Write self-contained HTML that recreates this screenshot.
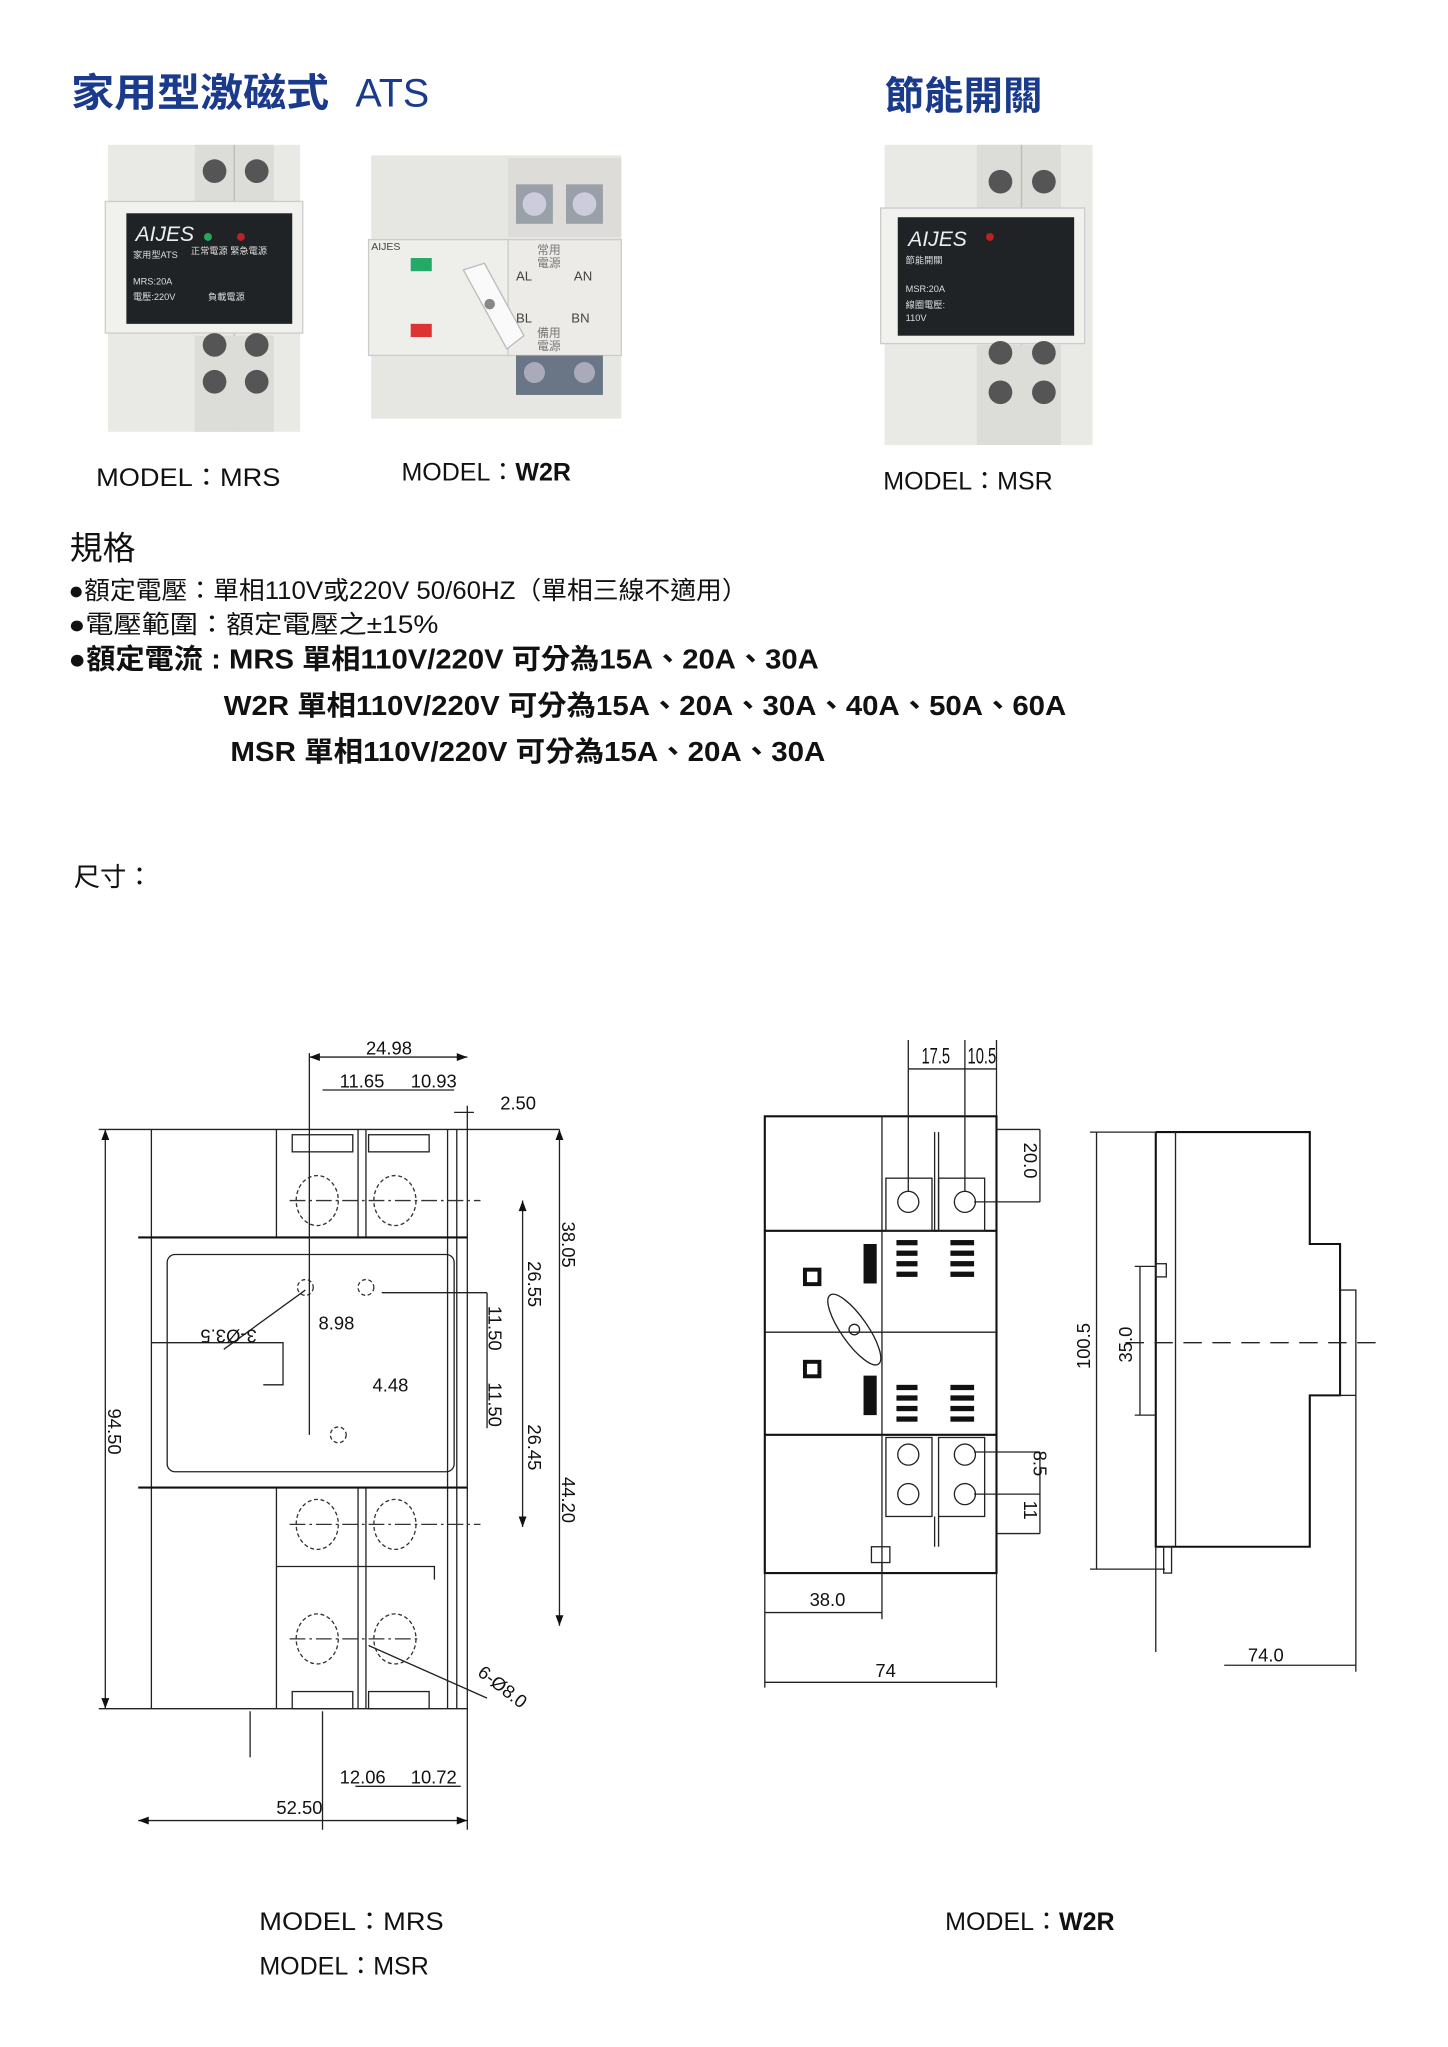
<!DOCTYPE html>
<html><head><meta charset="utf-8"><style>
html,body{margin:0;padding:0;background:#fff}
svg{display:block}
text{font-family:"Liberation Sans","Noto Sans CJK TC",sans-serif}
.d{font-family:"Liberation Sans Narrow","Liberation Sans",sans-serif;font-size:14px;fill:#111}
.ln{stroke:#222;stroke-width:1;fill:none}
.th{stroke:#111;stroke-width:1.6;fill:none}
.ds{stroke:#333;stroke-width:1;fill:none;stroke-dasharray:3 2}
.cl{stroke:#333;stroke-width:1;stroke-dasharray:12 3 2 3}
</style></head><body>
<svg width="1448" height="2047" viewBox="0 0 1100 1555" xmlns="http://www.w3.org/2000/svg">
<rect width="1100" height="1555" fill="#fff"/>
<!-- titles -->
<text x="54" y="81" font-size="30" font-weight="bold" fill="#1a3a8c" textLength="196" lengthAdjust="spacingAndGlyphs">家用型激磁式</text>
<text x="270" y="81" font-size="30" fill="#1a3a8c">ATS</text>
<text x="672" y="83" font-size="30" font-weight="bold" fill="#1a3a8c">節能開關</text>

<!-- MRS photo -->
<g>
<rect x="82" y="110" width="146" height="218" fill="#e9e9e6"/>
<rect x="148" y="110" width="60" height="55" fill="#dcdcd8"/>
<line x1="178" y1="110" x2="178" y2="328" stroke="#bbb"/>
<circle cx="163" cy="130" r="9" fill="#555"/><circle cx="195" cy="130" r="9" fill="#555"/>
<rect x="80" y="153" width="150" height="100" fill="#f1f1ee" stroke="#ccc"/>
<rect x="96" y="162" width="126" height="84" fill="#1f2326"/>
<text x="103" y="183" font-size="16" font-style="italic" fill="#eee" font-family="Liberation Serif">AIJES</text>
<text x="101" y="196" font-size="7" fill="#ddd">家用型ATS</text>
<text x="145" y="193" font-size="7" fill="#ddd">正常電源 緊急電源</text>
<text x="101" y="216" font-size="7" fill="#ddd">MRS:20A</text>
<text x="101" y="228" font-size="7" fill="#ddd">電壓:220V</text>
<text x="158" y="228" font-size="7" fill="#ddd">負載電源</text>
<circle cx="158" cy="180" r="3" fill="#2a5"/><circle cx="183" cy="180" r="3" fill="#b22"/>
<rect x="148" y="255" width="60" height="73" fill="#dcdcd8"/>
<circle cx="163" cy="262" r="9" fill="#555"/><circle cx="195" cy="262" r="9" fill="#555"/>
<circle cx="163" cy="290" r="9" fill="#555"/><circle cx="195" cy="290" r="9" fill="#555"/>
</g>
<!-- W2R photo -->
<g>
<rect x="282" y="118" width="190" height="200" fill="#e6e6e2"/>
<rect x="386" y="120" width="86" height="60" fill="#dedcd8"/>
<rect x="392" y="140" width="28" height="30" fill="#9aa0a8"/><rect x="430" y="140" width="28" height="30" fill="#9aa0a8"/>
<circle cx="406" cy="155" r="9" fill="#ccd"/><circle cx="444" cy="155" r="9" fill="#ccd"/>
<rect x="280" y="182" width="106" height="88" fill="#eeeeea" stroke="#ccc"/>
<rect x="386" y="182" width="86" height="88" fill="#ecebe7" stroke="#ccc"/>
<text x="282" y="190" font-size="8" fill="#444">AIJES</text>
<rect x="312" y="196" width="16" height="10" fill="#2a6"/>
<rect x="312" y="246" width="16" height="10" fill="#d33"/>
<polygon points="352,205 368,200 398,255 385,265" fill="#fafafa" stroke="#bbb"/>
<circle cx="372" cy="231" r="4" fill="#888"/>
<text x="392" y="213" font-size="10" fill="#444">AL</text><text x="436" y="213" font-size="10" fill="#444">AN</text>
<text x="392" y="245" font-size="10" fill="#444">BL</text><text x="434" y="245" font-size="10" fill="#444">BN</text>
<text x="408" y="193" font-size="9" fill="#777">常用</text><text x="408" y="203" font-size="9" fill="#777">電源</text>
<text x="408" y="256" font-size="9" fill="#777">備用</text><text x="408" y="266" font-size="9" fill="#777">電源</text>
<rect x="392" y="270" width="66" height="30" fill="#6a7585"/>
<circle cx="406" cy="283" r="8" fill="#aab"/><circle cx="444" cy="283" r="8" fill="#aab"/>
</g>
<!-- MSR photo -->
<g>
<rect x="672" y="110" width="158" height="228" fill="#e9e9e6"/>
<rect x="742" y="110" width="64" height="55" fill="#dcdcd8"/>
<line x1="776" y1="110" x2="776" y2="338" stroke="#bbb"/>
<circle cx="760" cy="138" r="9" fill="#555"/><circle cx="793" cy="138" r="9" fill="#555"/>
<rect x="669" y="158" width="155" height="103" fill="#f1f1ee" stroke="#ccc"/>
<rect x="682" y="165" width="134" height="90" fill="#1f2326"/>
<text x="690" y="187" font-size="16" font-style="italic" fill="#eee" font-family="Liberation Serif">AIJES</text>
<text x="688" y="200" font-size="7" fill="#ddd">節能開關</text>
<text x="688" y="222" font-size="7" fill="#ddd">MSR:20A</text>
<text x="688" y="234" font-size="7" fill="#ddd">線圈電壓:</text>
<text x="688" y="244" font-size="7" fill="#ddd">110V</text>
<circle cx="752" cy="180" r="3" fill="#b22"/>
<rect x="742" y="262" width="64" height="76" fill="#dcdcd8"/>
<circle cx="760" cy="268" r="9" fill="#555"/><circle cx="793" cy="268" r="9" fill="#555"/>
<circle cx="760" cy="298" r="9" fill="#555"/><circle cx="793" cy="298" r="9" fill="#555"/>
</g>
<!-- model labels -->
<text x="73" y="369" font-size="19" fill="#111" textLength="140" lengthAdjust="spacingAndGlyphs">MODEL：MRS</text>
<text x="305" y="365" font-size="19" fill="#111">MODEL：<tspan font-weight="bold">W2R</tspan></text>
<text x="671" y="372" font-size="19" fill="#111">MODEL：MSR</text>
<!-- specs -->
<text x="53" y="425" font-size="25" fill="#111">規格</text>
<text x="52" y="455" font-size="19" fill="#111" textLength="516" lengthAdjust="spacingAndGlyphs">●額定電壓：單相110V或220V 50/60HZ（單相三線不適用）</text>
<text x="52" y="481" font-size="19" fill="#111" textLength="281" lengthAdjust="spacingAndGlyphs">●電壓範圍：額定電壓之±15%</text>
<text x="52" y="508" font-size="21" font-weight="bold" fill="#111" textLength="570" lengthAdjust="spacingAndGlyphs">●額定電流 : MRS  單相110V/220V 可分為15A、20A、30A</text>
<text x="170" y="543" font-size="21" font-weight="bold" fill="#111" textLength="640" lengthAdjust="spacingAndGlyphs">W2R  單相110V/220V 可分為15A、20A、30A、40A、50A、60A</text>
<text x="175" y="578" font-size="21" font-weight="bold" fill="#111" textLength="452" lengthAdjust="spacingAndGlyphs">MSR  單相110V/220V 可分為15A、20A、30A</text>
<text x="56" y="673" font-size="20" fill="#111">尺寸：</text>

<!-- MRS drawing -->
<g>
<line class="ln" x1="75" y1="858" x2="425" y2="858"/>
<line class="ln" x1="75" y1="1298" x2="355" y2="1298"/>
<line class="ln" x1="80" y1="858" x2="80" y2="1298"/>
<path d="M80,858 l-3,8 h6z M80,1298 l-3,-8 h6z" fill="#111"/>
<line class="ln" x1="115" y1="858" x2="115" y2="1298"/>
<line class="ln" x1="210" y1="858" x2="210" y2="940"/><line class="ln" x1="210" y1="1130" x2="210" y2="1298"/>
<line class="ln" x1="272" y1="858" x2="272" y2="940"/><line class="ln" x1="272" y1="1130" x2="272" y2="1298"/>
<line class="ln" x1="278" y1="858" x2="278" y2="940"/><line class="ln" x1="278" y1="1130" x2="278" y2="1298"/>
<line class="ln" x1="340" y1="858" x2="340" y2="1298"/>
<line class="ln" x1="347" y1="858" x2="347" y2="1298"/>
<line class="ln" x1="355" y1="840" x2="355" y2="1390"/>
<line class="th" x1="105" y1="940" x2="355" y2="940"/>
<line class="th" x1="105" y1="1130" x2="355" y2="1130"/>
<rect class="ln" x="127" y="953" width="218" height="165" rx="6"/>
<rect class="ln" x="222" y="862" width="46" height="13"/><rect class="ln" x="280" y="862" width="46" height="13"/>
<rect class="ln" x="222" y="1285" width="46" height="13"/><rect class="ln" x="280" y="1285" width="46" height="13"/>
<polyline class="ln" points="210,1190 330,1190 330,1200"/>
<ellipse class="ds" cx="241" cy="912" rx="16" ry="19"/><ellipse class="ds" cx="300" cy="912" rx="16" ry="19"/>
<ellipse class="ds" cx="241" cy="1158" rx="16" ry="19"/><ellipse class="ds" cx="300" cy="1158" rx="16" ry="19"/>
<ellipse class="ds" cx="241" cy="1245" rx="16" ry="19"/><ellipse class="ds" cx="300" cy="1245" rx="16" ry="19"/>
<line class="cl" x1="220" y1="912" x2="365" y2="912"/><line class="cl" x1="220" y1="1158" x2="365" y2="1158"/><line class="cl" x1="220" y1="1245" x2="320" y2="1245"/>
<circle class="ds" cx="232" cy="978" r="6"/><circle class="ds" cx="278" cy="978" r="6"/><circle class="ds" cx="257" cy="1090" r="6"/>
<line class="ln" x1="235" y1="800" x2="235" y2="1090"/>
<line class="ln" x1="290" y1="982" x2="370" y2="982"/>
<line class="ln" x1="245" y1="1300" x2="245" y2="1390"/>
<line class="ln" x1="190" y1="1300" x2="190" y2="1335"/>
<polyline class="ln" points="115,1020 215,1020 215,1052 200,1052"/>
<line class="ln" x1="170" y1="1025" x2="232" y2="980"/>
<line class="ln" x1="280" y1="1250" x2="370" y2="1290"/>
<line class="ln" x1="370" y1="982" x2="370" y2="1085"/>
<line class="ln" x1="397" y1="912" x2="397" y2="1160"/>
<line class="ln" x1="425" y1="858" x2="425" y2="1235"/>
<path d="M425,858 l-3,8 h6z M425,1235 l-3,-8 h6z M397,912 l-3,8 h6z M397,1160 l-3,-8 h6z" fill="#111"/>
<line class="ln" x1="235" y1="803" x2="355" y2="803"/>
<path d="M235,803 l8,-3 v6z M355,803 l-8,-3 v6z" fill="#111"/>
<line class="ln" x1="245" y1="828" x2="345" y2="828"/>
<line class="ln" x1="345" y1="845" x2="360" y2="845"/>
<line class="ln" x1="270" y1="1357" x2="350" y2="1357"/>
<line class="ln" x1="105" y1="1383" x2="355" y2="1383"/>
<path d="M105,1383 l8,-3 v6z M355,1383 l-8,-3 v6z" fill="#111"/>
<text class="d" x="278" y="801">24.98</text>
<text class="d" x="258" y="826">11.65</text><text class="d" x="312" y="826">10.93</text>
<text class="d" x="380" y="843">2.50</text>
<text class="d" x="242" y="1010">8.98</text>
<text class="d" x="283" y="1057">4.48</text>
<text class="d" x="258" y="1355">12.06</text><text class="d" x="312" y="1355">10.72</text>
<text class="d" x="210" y="1378">52.50</text>
<text class="d" transform="translate(195,1010) rotate(180)">3-Ø3.5</text>
<text class="d" transform="translate(82,1070) rotate(90)">94.50</text>
<text class="d" transform="translate(371,992) rotate(90)">11.50</text>
<text class="d" transform="translate(371,1050) rotate(90)">11.50</text>
<text class="d" transform="translate(401,958) rotate(90)">26.55</text>
<text class="d" transform="translate(401,1082) rotate(90)">26.45</text>
<text class="d" transform="translate(427,928) rotate(90)">38.05</text>
<text class="d" transform="translate(427,1122) rotate(90)">44.20</text>
<text class="d" transform="translate(362,1272) rotate(38)">6-Ø8.0</text>
</g>

<!-- W2R front -->
<g>
<rect class="th" x="581" y="848" width="176" height="347"/>
<line class="th" x1="581" y1="935" x2="757" y2="935"/>
<line class="th" x1="581" y1="1090" x2="757" y2="1090"/>
<line class="ln" x1="581" y1="1012" x2="757" y2="1012"/>
<line class="ln" x1="670" y1="848" x2="670" y2="1195"/>
<line class="ln" x1="710" y1="860" x2="710" y2="935"/><line class="ln" x1="713" y1="860" x2="713" y2="935"/>
<rect class="ln" x="673" y="895" width="35" height="40"/><rect class="ln" x="713" y="895" width="35" height="40"/>
<circle class="ln" cx="690" cy="913" r="8"/><circle class="ln" cx="733" cy="913" r="8"/>
<rect class="ln" x="673" y="1092" width="35" height="60"/><rect class="ln" x="713" y="1092" width="35" height="60"/>
<circle class="ln" cx="690" cy="1105" r="8"/><circle class="ln" cx="733" cy="1105" r="8"/>
<circle class="ln" cx="690" cy="1135" r="8"/><circle class="ln" cx="733" cy="1135" r="8"/>
<line class="ln" x1="710" y1="1152" x2="710" y2="1175"/><line class="ln" x1="713" y1="1152" x2="713" y2="1175"/>
<rect x="610" y="963" width="14" height="14" fill="#111"/><rect x="613" y="966" width="8" height="8" fill="#fff"/>
<rect x="610" y="1033" width="14" height="14" fill="#111"/><rect x="613" y="1036" width="8" height="8" fill="#fff"/>
<rect x="656" y="945" width="10" height="30" fill="#111"/><rect x="656" y="1045" width="10" height="30" fill="#111"/>
<ellipse class="ln" cx="649" cy="1010" rx="10" ry="32" transform="rotate(-35 649 1010)"/>
<circle class="ln" cx="649" cy="1010" r="4"/>
<g fill="#111">
<rect x="681" y="942" width="16" height="4"/><rect x="681" y="950" width="16" height="4"/><rect x="681" y="958" width="16" height="4"/><rect x="681" y="966" width="16" height="4"/>
<rect x="722" y="942" width="18" height="4"/><rect x="722" y="950" width="18" height="4"/><rect x="722" y="958" width="18" height="4"/><rect x="722" y="966" width="18" height="4"/>
<rect x="681" y="1052" width="16" height="4"/><rect x="681" y="1060" width="16" height="4"/><rect x="681" y="1068" width="16" height="4"/><rect x="681" y="1076" width="16" height="4"/>
<rect x="722" y="1052" width="18" height="4"/><rect x="722" y="1060" width="18" height="4"/><rect x="722" y="1068" width="18" height="4"/><rect x="722" y="1076" width="18" height="4"/>
</g>
<rect class="ln" x="662" y="1175" width="14" height="12"/>
<line class="ln" x1="690" y1="790" x2="690" y2="905"/>
<line class="ln" x1="733" y1="790" x2="733" y2="905"/>
<line class="ln" x1="757" y1="790" x2="757" y2="848"/>
<line class="ln" x1="690" y1="812" x2="757" y2="812"/>
<line class="ln" x1="757" y1="858" x2="790" y2="858"/>
<line class="ln" x1="740" y1="913" x2="790" y2="913"/>
<line class="ln" x1="790" y1="858" x2="790" y2="913"/>
<line class="ln" x1="740" y1="1103" x2="790" y2="1103"/>
<line class="ln" x1="740" y1="1135" x2="790" y2="1135"/>
<line class="ln" x1="757" y1="1165" x2="790" y2="1165"/>
<line class="ln" x1="790" y1="1103" x2="790" y2="1165"/>
<line class="ln" x1="581" y1="1195" x2="581" y2="1282"/>
<line class="ln" x1="670" y1="1187" x2="670" y2="1230"/>
<line class="ln" x1="757" y1="1195" x2="757" y2="1282"/>
<line class="ln" x1="581" y1="1225" x2="670" y2="1225"/>
<line class="ln" x1="581" y1="1278" x2="757" y2="1278"/>
<text class="d" x="700" y="808" transform="translate(700,808) scale(0.8,1.2) translate(-700,-808)">17.5</text>
<text class="d" x="735" y="808" transform="translate(735,808) scale(0.8,1.2) translate(-735,-808)">10.5</text>
<text class="d" transform="translate(778,868) rotate(90)">20.0</text>
<text class="d" transform="translate(785,1102) rotate(90)">8.5</text>
<text class="d" transform="translate(778,1140) rotate(90)">11</text>
<text class="d" x="615" y="1220">38.0</text>
<text class="d" x="665" y="1274">74</text>
</g>

<!-- side view -->
<g>
<polyline class="th" points="878,860 995,860 995,945 1018,945 1018,1060 995,1060 995,1175 878,1175 878,860"/>
<line class="ln" x1="893" y1="860" x2="893" y2="1175"/>
<rect class="ln" x="1018" y="980" width="12" height="80"/>
<rect class="ln" x="878" y="960" width="8" height="10"/>
<rect class="ln" x="884" y="1175" width="6" height="20"/>
<line class="ln" x1="828" y1="860" x2="878" y2="860"/>
<line class="ln" x1="828" y1="1192" x2="885" y2="1192"/>
<line class="ln" x1="833" y1="860" x2="833" y2="1192"/>
<line class="ln" x1="862" y1="962" x2="878" y2="962"/>
<line class="ln" x1="862" y1="1075" x2="878" y2="1075"/>
<line class="ln" x1="866" y1="962" x2="866" y2="1075"/>
<line x1="855" y1="1020" x2="1045" y2="1020" stroke="#222" stroke-dasharray="14 8"/>
<line class="ln" x1="878" y1="1175" x2="878" y2="1255"/>
<line class="ln" x1="1030" y1="1060" x2="1030" y2="1270"/>
<line class="ln" x1="930" y1="1265" x2="1030" y2="1265"/>
<text class="d" transform="translate(828,1040) rotate(-90)">100.5</text>
<text class="d" transform="translate(860,1035) rotate(-90)">35.0</text>
<text class="d" x="948" y="1262">74.0</text>
</g>

<text x="197" y="1466" font-size="19" fill="#111" textLength="140" lengthAdjust="spacingAndGlyphs">MODEL：MRS</text>
<text x="197" y="1500" font-size="19" fill="#111">MODEL：MSR</text>
<text x="718" y="1466" font-size="19" fill="#111">MODEL：<tspan font-weight="bold">W2R</tspan></text>
</svg>
</body></html>
